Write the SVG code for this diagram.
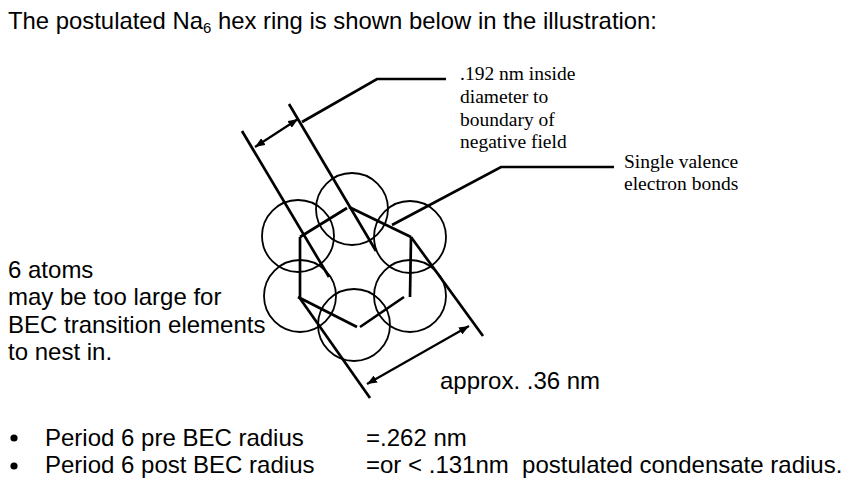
<svg xmlns="http://www.w3.org/2000/svg" width="846" height="484" viewBox="0 0 846 484">
<style>
.sans{font-family:"Liberation Sans",Arial,sans-serif;font-size:24px;fill:#000;white-space:pre}
.serif{font-family:"Liberation Serif","Times New Roman",serif;font-size:19.5px;fill:#000}
.dot{fill:#000}
.atom{fill:none;stroke:#000;stroke-width:1.8}
.ln{fill:none;stroke:#000;stroke-width:2.7;stroke-linecap:butt}
.thin{fill:none;stroke:#000;stroke-width:2.2}
</style>
<defs>
<marker id="ah" viewBox="0 0 10 8" refX="10" refY="4" markerWidth="10" markerHeight="8" markerUnits="userSpaceOnUse" orient="auto-start-reverse">
<path d="M0,0 L10,4 L0,8 Z" fill="#000"/>
</marker>
</defs>
<rect width="846" height="484" fill="#fff"/>
<text class="sans" x="8" y="29" textLength="649" lengthAdjust="spacingAndGlyphs">The postulated Na<tspan font-size="15" dy="4">6</tspan><tspan dy="-4"> hex ring is shown below in the illustration:</tspan></text>
<g id="atoms">
<circle class="atom" cx="352" cy="209" r="36"/>
<circle class="atom" cx="298" cy="236" r="36"/>
<circle class="atom" cx="410" cy="237" r="36"/>
<circle class="atom" cx="300" cy="296" r="36"/>
<circle class="atom" cx="410" cy="296" r="36"/>
<circle class="atom" cx="354" cy="325" r="36"/>
</g>
<g id="bonds">
<line class="ln" x1="300" y1="237" x2="347" y2="208"/>
<line class="ln" x1="349" y1="207" x2="411" y2="237"/>
<line class="ln" x1="411" y1="237" x2="410" y2="297"/>
<line class="ln" x1="404" y1="297" x2="360" y2="327"/>
<line class="ln" x1="357" y1="327" x2="298" y2="297"/>
<line class="ln" x1="300" y1="297" x2="300" y2="237"/>
</g>
<g id="connectors">
<line class="ln" x1="242" y1="131" x2="329" y2="277"/>
<line class="ln" x1="289" y1="104" x2="376" y2="251"/>
<line class="ln" x1="411" y1="237" x2="483" y2="336"/>
<line class="ln" x1="299" y1="297" x2="370" y2="398"/>
<line class="thin" x1="255" y1="147" x2="298" y2="119" marker-start="url(#ah)" marker-end="url(#ah)"/>
<line class="thin" x1="367" y1="384" x2="469" y2="326" marker-start="url(#ah)" marker-end="url(#ah)"/>
<polyline class="ln" points="302,122 377,79 446,79"/>
<polyline class="ln" points="392,225 501,167 614,167"/>
</g>
<g id="label-inside">
<text class="serif" x="460" y="80">.192 nm inside</text>
<text class="serif" x="460" y="103">diameter to</text>
<text class="serif" x="460" y="125.5">boundary of</text>
<text class="serif" x="460" y="148">negative field</text>
</g>
<g id="label-bonds">
<text class="serif" x="624" y="168">Single valence</text>
<text class="serif" x="624" y="190">electron bonds</text>
</g>
<g id="label-atoms">
<text class="sans" x="8" y="277.5">6 atoms</text>
<text class="sans" x="8" y="305">may be too large for</text>
<text class="sans" x="8" y="332.5">BEC transition elements</text>
<text class="sans" x="8" y="360">to nest in.</text>
</g>
<text class="sans" x="440" y="389">approx. .36 nm</text>
<g id="bullets">
<circle class="dot" cx="14" cy="438" r="3.6"/>
<text class="sans" x="45" y="446">Period 6 pre BEC radius</text>
<text class="sans" x="366" y="446">=.262 nm</text>
<circle class="dot" cx="14" cy="466" r="3.6"/>
<text class="sans" x="45" y="473">Period 6 post BEC radius</text>
<text class="sans" x="366" y="473">=or &lt; .131nm  postulated condensate radius.</text>
</g>
</svg>
